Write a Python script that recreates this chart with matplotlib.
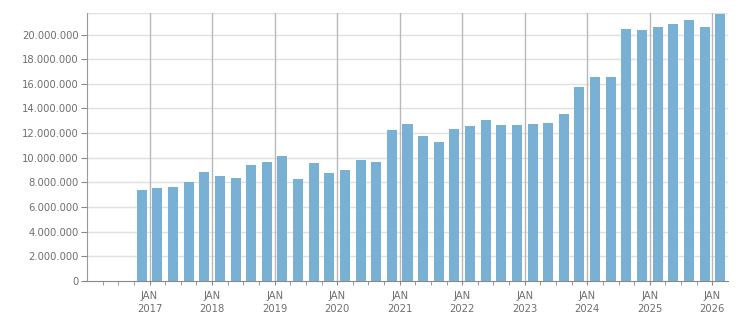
import matplotlib
matplotlib.use('Agg')
import matplotlib.pyplot as plt
import numpy as np

plt.rcParams.update({
    'font.family': 'DejaVu Sans',
    'font.size': 7.2,
})

# quarterly values, Q4 2016 .. Q1 2026
start_year, start_q = 2016, 4
values = [7.36, 7.52, 7.60, 8.01, 8.82, 8.50, 8.34, 9.39,
          9.63, 10.12, 8.25, 9.55, 8.74, 8.99, 9.80, 9.63,
          12.23, 12.72, 11.75, 11.26, 12.31, 12.56, 13.04, 12.64,
          12.64, 12.72, 12.80, 13.53, 15.72, 16.54, 16.54, 20.43,
          20.35, 20.60, 20.84, 21.16, 20.60, 21.65]
values = np.array(values) * 1e6
years = list(range(2017, 2027))
yticks = list(range(0, 20_000_001, 2_000_000))

BAR = '#78b1d3'
TXT = '#6e6e6e'

# x axis in quarters since Jan 2016
first = (start_year - 2016) * 4 + (start_q - 1)
xq = first + np.arange(len(values)) + 0.5

fig = plt.figure(figsize=(7.51, 3.13), dpi=100)
ax = fig.add_axes([87/751, 32/313, 641/751, 268/313])
ax.bar(xq, values, width=0.64, color=BAR, zorder=3)

ax.set_xlim(0, 41)
ax.set_ylim(0, 21.75e6)

ax.set_yticks(yticks)
ax.set_yticklabels([f'{v:,}'.replace(',', '.') for v in yticks])
for y in yticks[1:] + [21.75e6]:
    ax.axhline(y, color='#e0e0e0', lw=1, zorder=1)

year_pos = [(y - 2016) * 4 for y in years]
ax.set_xticks(year_pos)
ax.set_xticklabels([f'JAN\n{y}' for y in years], linespacing=1.35)
ax.set_xticks(np.arange(1, 41), minor=True)
for xp in year_pos:
    ax.axvline(xp, color='#b8b8b8', lw=1, zorder=2)

for s in ['top', 'right']:
    ax.spines[s].set_visible(False)
ax.spines['left'].set_color('#999999')
ax.spines['bottom'].set_color('#888888')
ax.tick_params(axis='y', colors='#888888', labelcolor=TXT, length=4, pad=2)
ax.tick_params(axis='x', which='both', colors='#888888', labelcolor=TXT, length=3, pad=4)

fig.savefig('out.png', dpi=100)
